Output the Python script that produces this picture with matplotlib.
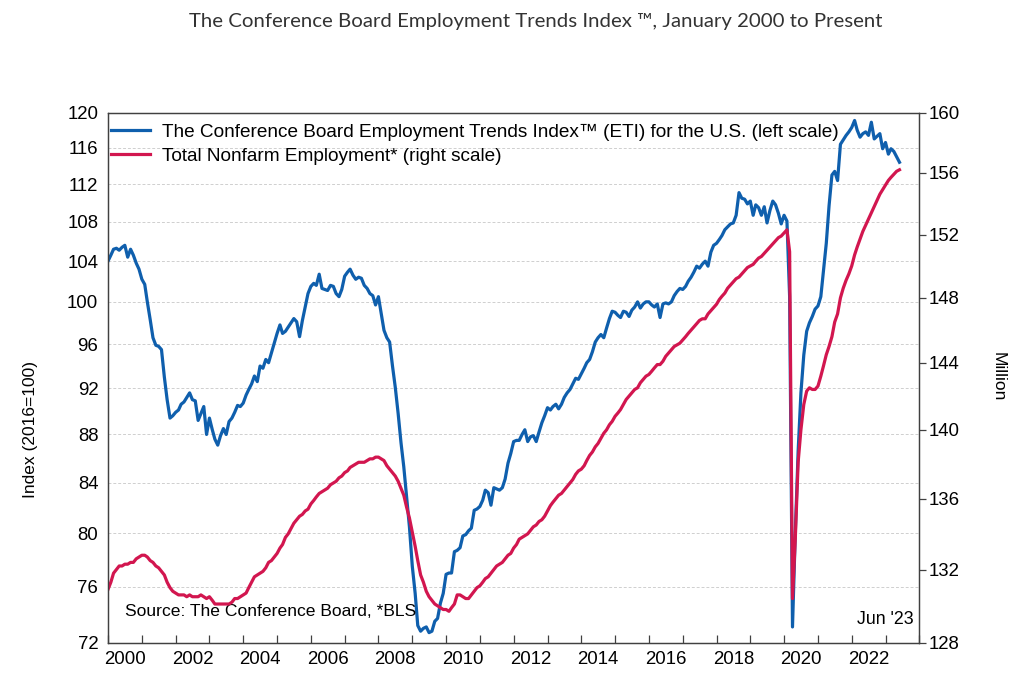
import numpy as np
import pandas as pd
import matplotlib
matplotlib.use("Agg")
import matplotlib.pyplot as plt
import matplotlib.dates as mdates
from matplotlib.ticker import FixedLocator, NullLocator, NullFormatter, FixedFormatter

# Employment Trends Index (2016=100), monthly, Jan 2000 - Jun 2023
eti = [
    104.0, 104.6, 105.2, 105.3, 105.1, 105.4, 105.6, 104.4, 105.2, 104.6, 103.8, 103.2,  # 2000
    102.2, 101.7, 100.0, 98.3, 96.6, 95.9, 95.8, 95.5, 93.0, 91.0, 89.4, 89.6,  # 2001
    89.9, 90.1, 90.6, 90.8, 91.2, 91.6, 91.0, 90.9, 89.2, 89.8, 90.4, 88.0,  # 2002
    89.4, 88.4, 87.6, 87.1, 87.9, 88.5, 88.0, 89.1, 89.4, 89.9, 90.5, 90.4,  # 2003
    90.7, 91.4, 91.9, 92.4, 93.1, 92.6, 94.0, 93.8, 94.6, 94.3, 95.2, 96.1,  # 2004
    97.0, 97.8, 97.0, 97.2, 97.6, 98.0, 98.4, 98.1, 96.7, 98.2, 99.5, 100.8,  # 2005
    101.5, 101.8, 101.6, 102.7, 101.3, 101.2, 101.1, 101.6, 101.5, 100.8, 100.5, 101.2,  # 2006
    102.5, 102.9, 103.2, 102.6, 102.2, 102.4, 102.3, 101.6, 101.3, 100.8, 100.6, 99.7,  # 2007
    100.5, 98.8, 97.3, 96.6, 96.2, 94.0, 92.1, 89.8, 87.3, 85.3, 82.8, 80.5,  # 2008
    77.5, 75.5, 73.2, 72.8, 73.0, 73.1, 72.7, 72.8, 73.5, 73.7, 74.8, 75.5,  # 2009
    76.9, 77.0, 77.0, 78.6, 78.7, 78.9, 79.8, 79.9, 80.2, 80.4, 81.8, 81.9,  # 2010
    82.1, 82.6, 83.4, 83.2, 82.2, 83.6, 83.5, 83.4, 83.6, 84.3, 85.6, 86.4,  # 2011
    87.4, 87.5, 87.5, 88.0, 88.4, 87.4, 87.8, 87.9, 87.4, 88.2, 89.0, 89.6,  # 2012
    90.3, 90.1, 90.4, 90.6, 90.2, 90.6, 91.2, 91.6, 91.9, 92.4, 92.9, 92.8,  # 2013
    93.3, 93.8, 94.3, 94.6, 95.3, 96.2, 96.6, 96.9, 96.6, 97.5, 98.4, 99.1,  # 2014
    99.0, 98.7, 98.5, 99.1, 99.0, 98.6, 99.2, 99.5, 100.0, 99.4, 99.8, 100.0,  # 2015
    100.0, 99.7, 99.5, 99.8, 98.5, 99.8, 99.9, 99.8, 100.0, 100.6, 101.0, 101.3,  # 2016
    101.2, 101.5, 102.0, 102.4, 102.9, 103.5, 103.3, 103.7, 104.0, 103.5, 104.9, 105.6,  # 2017
    105.8, 106.2, 106.6, 107.2, 107.5, 107.8, 107.9, 108.7, 111.1, 110.5, 110.4, 109.9,  # 2018
    110.2, 108.7, 109.8, 109.5, 108.7, 109.6, 107.9, 109.2, 110.2, 109.8, 108.9, 107.8,  # 2019
    108.7, 108.1, 100.5, 73.1, 80.0, 86.6, 91.6, 95.0, 97.2, 98.0, 98.6, 99.3,  # 2020
    99.6, 100.5, 103.0, 105.8, 109.7, 113.0, 113.4, 112.4, 116.4, 116.9, 117.4, 117.8,  # 2021
    118.3, 119.1, 118.0, 117.2, 117.6, 117.8, 117.4, 118.9, 117.0, 117.3, 117.6, 115.9,  # 2022
    116.6, 115.3, 115.9, 115.6, 115.0, 114.4,  # 2023
]

# Total nonfarm employment (millions), monthly, Jan 2000 - Jun 2023
nonfarm = [
    130.9, 131.3, 131.8, 132.0, 132.2, 132.2, 132.3, 132.3, 132.4, 132.4, 132.6, 132.7,  # 2000
    132.8, 132.8, 132.7, 132.5, 132.4, 132.2, 132.1, 131.9, 131.7, 131.3, 131.0, 130.8,  # 2001
    130.7, 130.6, 130.6, 130.6, 130.5, 130.6, 130.5, 130.5, 130.5, 130.6, 130.5, 130.4,  # 2002
    130.5, 130.3, 130.1, 130.1, 130.1, 130.1, 130.1, 130.1, 130.2, 130.4, 130.4, 130.5,  # 2003
    130.6, 130.7, 131.0, 131.3, 131.6, 131.7, 131.8, 131.9, 132.1, 132.4, 132.5, 132.7,  # 2004
    132.9, 133.2, 133.4, 133.8, 134.0, 134.3, 134.6, 134.8, 135.0, 135.1, 135.3, 135.4,  # 2005
    135.7, 135.9, 136.1, 136.3, 136.4, 136.5, 136.6, 136.8, 136.9, 137.0, 137.2, 137.3,  # 2006
    137.5, 137.6, 137.8, 137.9, 138.0, 138.1, 138.1, 138.1, 138.2, 138.3, 138.3, 138.4,  # 2007
    138.4, 138.3, 138.2, 137.9, 137.7, 137.5, 137.3, 137.0, 136.6, 136.2, 135.5, 134.9,  # 2008
    134.1, 133.3, 132.5, 131.7, 131.3, 130.8, 130.5, 130.3, 130.1, 130.0, 129.9, 129.8,  # 2009
    129.8, 129.7, 129.9, 130.1, 130.6, 130.6, 130.5, 130.4, 130.4, 130.6, 130.8, 131.0,  # 2010
    131.1, 131.3, 131.5, 131.6, 131.8, 132.0, 132.2, 132.3, 132.4, 132.6, 132.8, 132.9,  # 2011
    133.2, 133.4, 133.7, 133.8, 133.9, 134.0, 134.2, 134.4, 134.5, 134.7, 134.8, 135.0,  # 2012
    135.3, 135.6, 135.8, 136.0, 136.2, 136.3, 136.5, 136.7, 136.9, 137.1, 137.4, 137.6,  # 2013
    137.7, 137.9, 138.2, 138.5, 138.7, 139.0, 139.2, 139.5, 139.8, 140.0, 140.3, 140.5,  # 2014
    140.8, 141.0, 141.2, 141.5, 141.8, 142.0, 142.2, 142.4, 142.5, 142.8, 143.0, 143.2,  # 2015
    143.3, 143.5, 143.7, 143.9, 143.9, 144.1, 144.4, 144.6, 144.8, 145.0, 145.1, 145.2,  # 2016
    145.4, 145.6, 145.8, 146.0, 146.2, 146.4, 146.6, 146.7, 146.7, 147.0, 147.2, 147.4,  # 2017
    147.6, 147.9, 148.1, 148.3, 148.6, 148.8, 149.0, 149.2, 149.3, 149.5, 149.7, 149.9,  # 2018
    150.0, 150.1, 150.3, 150.5, 150.6, 150.8, 151.0, 151.2, 151.4, 151.6, 151.8, 151.9,  # 2019
    152.1, 152.3, 150.9, 130.4, 133.7, 138.1, 140.0, 141.5, 142.3, 142.5, 142.4, 142.4,  # 2020
    142.6, 143.2, 143.8, 144.5, 145.0, 145.6, 146.5, 147.0, 148.0, 148.6, 149.1, 149.5,  # 2021
    150.0, 150.7, 151.2, 151.7, 152.2, 152.6, 153.0, 153.4, 153.8, 154.2, 154.6, 154.9,  # 2022
    155.2, 155.5, 155.7, 155.9, 156.1, 156.2,  # 2023
]

dates = pd.date_range("2000-01-01", periods=len(eti), freq="MS")

left_ticks = list(range(72, 121, 4))
right_ticks = list(range(128, 161, 4))
label_years = list(range(2000, 2023, 2))

blue = "#0F5FAD"
red = "#D2164F"
spine_col = "#404040"

plt.rcParams["font.family"] = ["Liberation Sans", "DejaVu Sans"]

fig = plt.figure(figsize=(10.14, 6.9), dpi=100)
ax = fig.add_axes([0.1065, 0.0686, 0.8001, 0.7681])
ax2 = ax.twinx()

l1, = ax.plot(dates, eti, color=blue, lw=2.3, solid_joinstyle="round")
l2, = ax2.plot(dates, nonfarm, color=red, lw=2.3, solid_joinstyle="round")

# left scale (log)
ax.set_yscale("log")
ax.set_ylim(72, 120)
ax.yaxis.set_major_locator(FixedLocator(left_ticks))
ax.yaxis.set_major_formatter(FixedFormatter([str(v) for v in left_ticks]))
ax.yaxis.set_minor_locator(NullLocator())
ax.yaxis.set_minor_formatter(NullFormatter())
ax.grid(axis="y", color="#cfcfcf", ls=(0, (3, 2)), lw=0.7)
ax.set_axisbelow(True)

# right scale (log)
ax2.set_yscale("log")
ax2.set_ylim(128, 160)
ax2.yaxis.set_major_locator(FixedLocator(right_ticks))
ax2.yaxis.set_major_formatter(FixedFormatter([str(v) for v in right_ticks]))
ax2.yaxis.set_minor_locator(NullLocator())
ax2.yaxis.set_minor_formatter(NullFormatter())

# x axis: year ticks inside, labels centred mid-year
ax.set_xlim(pd.Timestamp("2000-01-01"), pd.Timestamp("2024-01-01"))
ax.xaxis.set_major_locator(mdates.YearLocator(1))
ax.xaxis.set_major_formatter(NullFormatter())
ax.xaxis.set_minor_locator(FixedLocator([mdates.date2num(pd.Timestamp(f"{y}-07-01")) for y in label_years]))
ax.xaxis.set_minor_formatter(FixedFormatter([str(y) for y in label_years]))

ax.tick_params(axis="x", which="major", direction="in", length=6, width=0.9, color=spine_col)
ax.tick_params(axis="x", which="minor", length=0, pad=6, labelsize=13.4)
ax.tick_params(axis="y", length=0, pad=7, labelsize=13.4)
ax2.tick_params(axis="y", direction="out", length=5, width=0.9, color=spine_col, pad=2, labelsize=13.4)

for a in (ax, ax2):
    for s in a.spines.values():
        s.set_color(spine_col)
        s.set_linewidth(0.9)

ax.legend([l1, l2],
          ["The Conference Board Employment Trends Index\u2122 (ETI) for the U.S. (left scale)",
           "Total Nonfarm Employment* (right scale)"],
          loc="upper left", bbox_to_anchor=(0.0042, 0.980), frameon=False, fontsize=13.7,
          handlelength=2.05, handletextpad=0.6, labelspacing=0.36, borderaxespad=0, borderpad=0)

ax.text(0.021, 0.058, "Source: The Conference Board, *BLS", transform=ax.transAxes,
        fontsize=12.6, va="center", ha="left")
ax.text(0.993, 0.043, "Jun '23", transform=ax.transAxes, fontsize=12.8, va="center", ha="right")

fig.text(0.0296, 0.377, "Index (2016=100)", rotation=90, fontsize=12.5, ha="center", va="center")
fig.text(0.984, 0.4536, "Million", rotation=270, fontsize=12.5, ha="center", va="center")

fig.text(0.5286, 1 - 22 / 690, "The Conference Board Employment Trends Index \u2122, January 2000 to Present",
         fontsize=14.7, color="#333333", ha="center", va="center", family=["Lato", "DejaVu Sans"])

fig.savefig("out.png", dpi=100)
